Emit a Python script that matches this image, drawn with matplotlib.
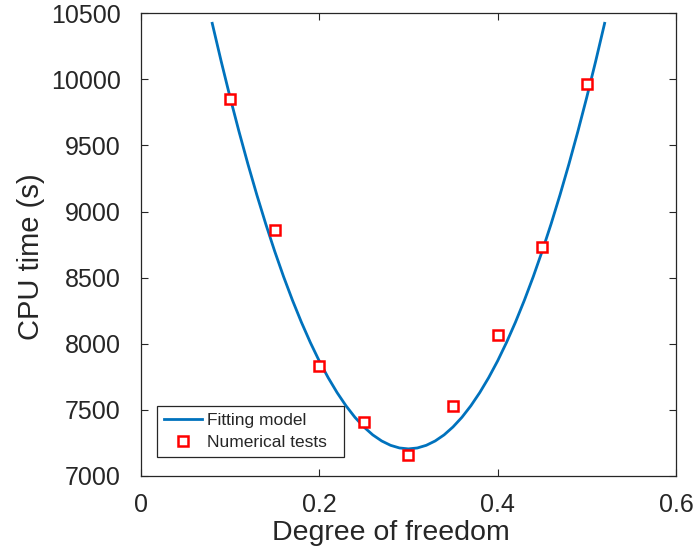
import matplotlib
matplotlib.use("Agg")
import matplotlib.pyplot as plt

plt.rcParams['font.family'] = ['Liberation Sans', 'DejaVu Sans']

# Fitting model curve
fit_x = [0.08, 0.09, 0.10, 0.11, 0.12, 0.13, 0.14, 0.15, 0.16, 0.17, 0.18, 0.19,
         0.20, 0.21, 0.22, 0.23, 0.24, 0.25, 0.26, 0.27, 0.28, 0.29, 0.30,
         0.31, 0.32, 0.33, 0.34, 0.35, 0.36, 0.37, 0.38, 0.39, 0.40, 0.41,
         0.42, 0.43, 0.44, 0.45, 0.46, 0.47, 0.48, 0.49, 0.50, 0.51, 0.52]
fit_y = [10424, 10138, 9865, 9606, 9360, 9127, 8907, 8701, 8508, 8329, 8163, 8010,
         7870, 7744, 7631, 7531, 7444, 7371, 7311, 7265, 7232, 7212, 7205,
         7212, 7232, 7265, 7311, 7371, 7444, 7531, 7631, 7744, 7870, 8010,
         8163, 8329, 8508, 8701, 8907, 9127, 9360, 9606, 9865, 10138, 10424]

# Numerical tests
test_x = [0.10, 0.15, 0.20, 0.25, 0.30, 0.35, 0.40, 0.45, 0.50]
test_y = [9850, 8864, 7833, 7411, 7156, 7530, 8068, 8735, 9967]

x_ticks = [0, 0.2, 0.4, 0.6]
x_ticklabels = ['0', '0.2', '0.4', '0.6']
y_ticks = [7000, 7500, 8000, 8500, 9000, 9500, 10000, 10500]

txt = '#262626'
fig = plt.figure(figsize=(6.94, 5.56), dpi=100)
ax = fig.add_axes([0.203, 0.1439, 0.771, 0.8322])

ax.plot(fit_x, fit_y, color='#0072BD', lw=2.0, label='Fitting model', zorder=2)
ax.plot(test_x, test_y, linestyle='none', marker='s', markersize=7,
        markerfacecolor='white', markeredgecolor='#FF0000', markeredgewidth=1.8,
        label='Numerical tests', zorder=3)

ax.set_xlim(0, 0.6)
ax.set_ylim(7000, 10500)
ax.set_xticks(x_ticks)
ax.set_xticklabels(x_ticklabels)
ax.set_yticks(y_ticks)
ax.tick_params(direction='in', length=5, width=0.8, colors=txt,
               labelsize=18, top=True, right=True)
ax.tick_params(axis='x', pad=12.5)
ax.tick_params(axis='y', pad=14.5)
for s in ax.spines.values():
    s.set_color(txt)
    s.set_linewidth(0.9)

ax.set_xlabel('Degree of freedom', fontsize=20.5, color=txt, labelpad=2)
ax.set_ylabel('CPU time (s)', fontsize=21, color=txt, labelpad=4)
ax.xaxis.label.set_x(0.468)
ax.yaxis.label.set_y(0.474)

leg = ax.legend(loc='lower left', bbox_to_anchor=(0.0307, 0.0404, 0.349, 0.107),
                mode='expand', borderaxespad=0,
                fontsize=12.5, fancybox=False, framealpha=1, edgecolor=txt,
                handlelength=2.2, handletextpad=0.25, borderpad=0.4, labelspacing=0.4)
leg.get_frame().set_linewidth(0.9)
for t in leg.get_texts():
    t.set_color(txt)

fig.savefig('out.png', dpi=100)
